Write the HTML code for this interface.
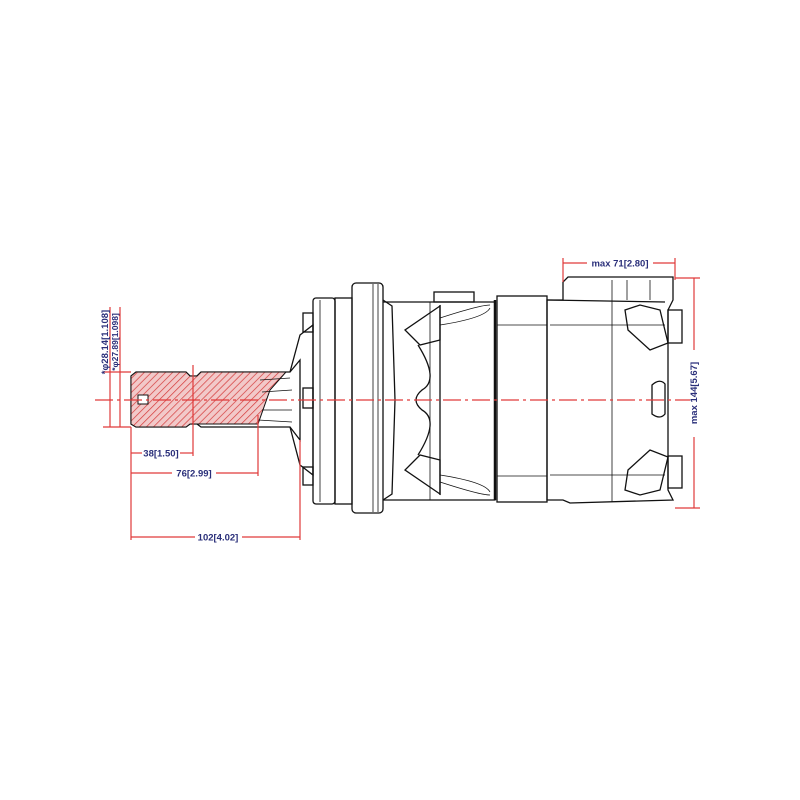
<!DOCTYPE html>
<html><head><meta charset="utf-8"><style>
html,body{margin:0;padding:0;background:#fff;width:800px;height:800px;overflow:hidden}
svg{display:block}
.k{fill:none;stroke:#111;stroke-width:1.3}
.kt{fill:none;stroke:#111;stroke-width:0.8}
.r{fill:none;stroke:#e03a3a;stroke-width:1.2}
.t{font-family:"Liberation Sans",sans-serif;font-size:9.5px;fill:#2a2f7a;font-weight:bold}
</style></head><body>
<svg width="800" height="800" viewBox="0 0 800 800" xmlns="http://www.w3.org/2000/svg">
<defs>
<pattern id="h" width="5" height="5" patternUnits="userSpaceOnUse" patternTransform="rotate(45)">
<rect width="5" height="5" fill="#f2c9c9"/><line x1="0" y1="0" x2="0" y2="5" stroke="#d43a3a" stroke-width="1.4"/></pattern>
</defs>
<!-- shaft -->
<path d="M131,376 L136,372 L186,372 L190,376 L197,376 L201,372 L290,372 L300,360 L300,440 L290,427 L201,427 L197,424 L190,424 L186,427 L136,427 L131,424 Z" class="k"/>
<path d="M131,376 L136,372 L186,372 L190,376 L197,376 L201,372 L286,372 L270,390 L258,424 L201,424 L197,424 L190,424 L186,427 L136,427 L131,424 Z" fill="url(#h)" stroke="#111" stroke-width="1"/>
<path d="M260,380 L290,378 M262,392 L292,390 M262,410 L292,410 M258,420 L292,422" class="kt"/>
<rect x="138" y="395" width="10" height="9" fill="#fff" stroke="#111" stroke-width="1"/>
<!-- hub -->
<path d="M290,372 L300,335 L313,325 L313,475 L300,465 L290,427" class="k"/>
<rect x="303" y="313" width="10" height="19" class="k"/>
<rect x="303" y="388" width="10" height="20" class="k"/>
<rect x="303" y="467" width="10" height="18" class="k"/>
<!-- thin flange -->
<rect x="313" y="298" width="22" height="206" rx="3" class="k"/>
<line x1="320" y1="300" x2="320" y2="502" class="kt"/>
<rect x="335" y="298" width="17" height="206" class="k"/>
<!-- thick flange -->
<rect x="352" y="283" width="31" height="230" rx="4" class="k"/>
<line x1="373" y1="284" x2="373" y2="512" class="kt"/>
<line x1="378" y1="284" x2="378" y2="512" class="kt"/>
<path d="M383,300 L392,306 L395,400 L392,494 L383,500" class="k"/>
<!-- body -->
<path d="M383,302 L495,302 L495,500 L383,500" class="k"/>
<line x1="430" y1="302" x2="430" y2="500" class="kt"/>
<rect x="434" y="292" width="40" height="10" class="k"/>
<path d="M440,306 L405,330 L420,345 L440,340 Z" class="k"/>
<path d="M440,494 L405,470 L420,455 L440,460 Z" class="k"/>
<path d="M418,345 Q440,380 422,390 Q410,400 422,410 Q440,420 418,455" class="k"/>
<path d="M440,305 L440,495" class="k"/>
<path d="M440,318 Q480,305 490,305 M440,482 Q480,495 490,495" class="kt"/>
<path d="M440,325 Q485,318 490,308 M440,475 Q485,482 490,492" class="kt"/>
<!-- band -->
<rect x="497" y="296" width="50" height="206" class="k"/>
<line x1="497" y1="325" x2="547" y2="325" class="kt"/>
<line x1="497" y1="476" x2="547" y2="476" class="kt"/>
<line x1="495" y1="300" x2="495" y2="500" stroke="#111" stroke-width="2.5"/>
<!-- rear housing -->
<path d="M547,300 L563,300 L563,282 L568,277 L673,277 L673,300 L668,310 L668,490 L673,500 L570,503 L563,500 L547,500 Z" class="k"/>
<line x1="547" y1="300" x2="665" y2="302" class="k"/>
<line x1="550" y1="325" x2="665" y2="325" class="kt"/>
<line x1="550" y1="475" x2="665" y2="475" class="kt"/>
<line x1="612" y1="280" x2="612" y2="502" class="kt"/>
<line x1="627" y1="280" x2="627" y2="300" class="kt"/>
<line x1="650" y1="280" x2="650" y2="300" class="kt"/>
<path d="M625,310 L640,305 L660,310 L668,343 L650,350 L628,330 Z" class="k"/>
<path d="M625,490 L640,495 L660,490 L668,457 L650,450 L628,470 Z" class="k"/>
<rect x="668" y="310" width="14" height="33" class="k"/>
<rect x="668" y="456" width="14" height="32" class="k"/>
<path d="M652,385 Q660,378 665,384 L665,414 Q660,420 652,414 Z" class="k"/>
<!-- centerline -->
<line x1="95" y1="400" x2="690" y2="400" stroke="#e03a3a" stroke-width="1.3" stroke-dasharray="18,4,3,4"/>
<!-- left dims -->
<line x1="103" y1="372" x2="131" y2="372" class="r"/>
<line x1="103" y1="427" x2="131" y2="427" class="r"/>
<line x1="110" y1="307" x2="110" y2="427" class="r"/>
<line x1="120" y1="307" x2="120" y2="427" class="r"/>
<text class="t" transform="translate(108,342) rotate(-90)" text-anchor="middle">*φ28.14[1.108]</text>
<text class="t" transform="translate(118,342) rotate(-90)" text-anchor="middle" style="font-size:8.5px">*φ27.89[1.098]</text>
<line x1="131" y1="427" x2="131" y2="540" class="r"/>
<line x1="193" y1="365" x2="193" y2="456" class="r"/>
<line x1="258" y1="415" x2="258" y2="476" class="r"/>
<line x1="300" y1="440" x2="300" y2="540" class="r"/>
<line x1="131" y1="453" x2="142" y2="453" class="r"/><line x1="180" y1="453" x2="193" y2="453" class="r"/>
<text class="t" x="161" y="456.5" text-anchor="middle">38[1.50]</text>
<line x1="131" y1="473" x2="172" y2="473" class="r"/><line x1="216" y1="473" x2="258" y2="473" class="r"/>
<text class="t" x="194" y="476.5" text-anchor="middle">76[2.99]</text>
<line x1="131" y1="537" x2="195" y2="537" class="r"/><line x1="242" y1="537" x2="300" y2="537" class="r"/>
<text class="t" x="218" y="540.5" text-anchor="middle">102[4.02]</text>
<!-- top dim -->
<line x1="563" y1="258" x2="563" y2="282" class="r"/>
<line x1="675" y1="258" x2="675" y2="280" class="r"/>
<line x1="563" y1="263" x2="587" y2="263" class="r"/><line x1="653" y1="263" x2="675" y2="263" class="r"/>
<text class="t" x="620" y="266.5" text-anchor="middle">max  71[2.80]</text>
<!-- right dim -->
<line x1="675" y1="278" x2="700" y2="278" class="r"/>
<line x1="675" y1="508" x2="700" y2="508" class="r"/>
<line x1="694" y1="278" x2="694" y2="350" class="r"/><line x1="694" y1="437" x2="694" y2="508" class="r"/>
<text class="t" transform="translate(697,393) rotate(-90)" text-anchor="middle">max  144[5.67]</text>
</svg>
</body></html>
